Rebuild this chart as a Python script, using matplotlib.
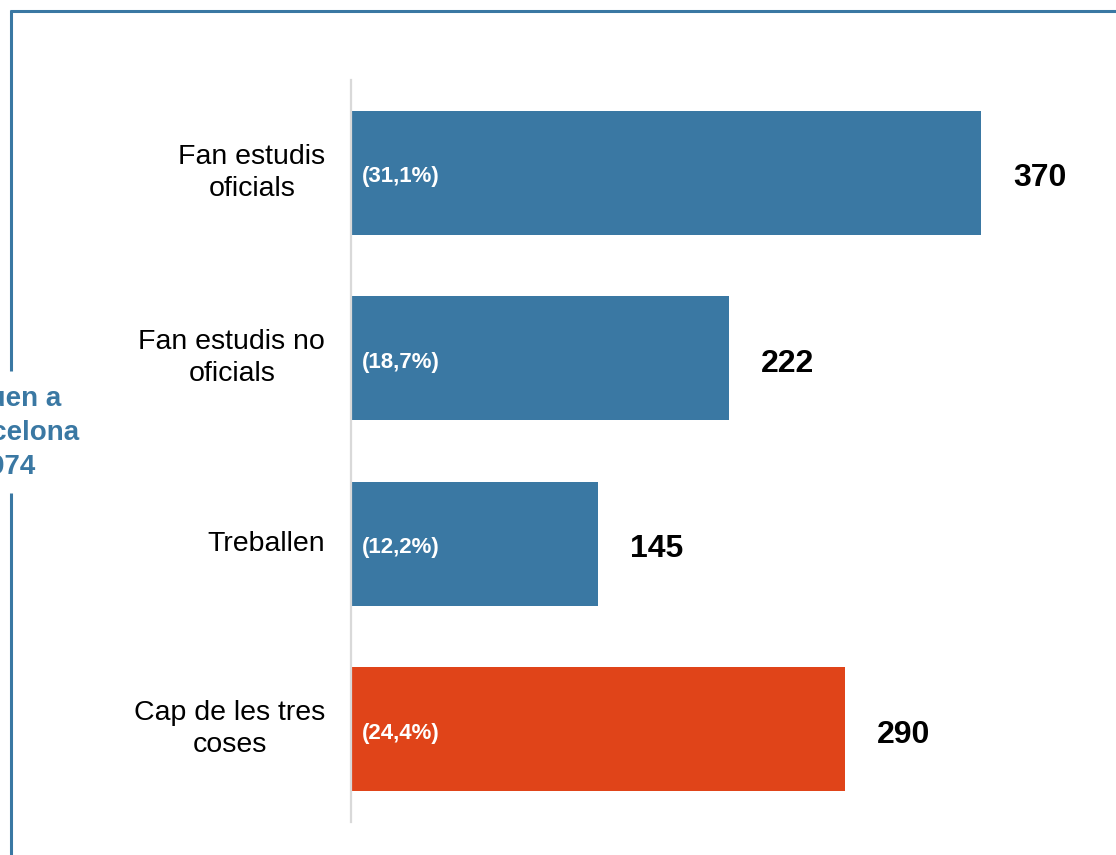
import numpy as np
import matplotlib
matplotlib.use('Agg')
import matplotlib.pyplot as plt
from matplotlib.lines import Line2D

plt.rcParams['font.family'] = ['Liberation Sans', 'DejaVu Sans']

# data
categories = ['Fan estudis\noficials', 'Fan estudis no\noficials', 'Treballen', 'Cap de les tres\ncoses']
values = [370, 222, 145, 290]
shares = ['(31,1%)', '(18,7%)', '(12,2%)', '(24,4%)']
side_text = 'Viuen a\nBarcelona\n974'

blue = '#3A78A3'
orange = '#E04419'
colors = [blue, blue, blue, orange]

W, H = 1116, 855
fig = plt.figure(figsize=(W / 100, H / 100), dpi=100)
fig.patch.set_facecolor('white')

# axes placed in pixel terms
ax = fig.add_axes([351 / W, (H - 822) / H, (W - 351) / W, 742 / H])
y = np.arange(len(values))
ax.barh(y, values, height=0.668, color=colors, zorder=2)
ax.set_ylim(3.5, -0.5)
ax.set_xlim(0, (W - 351) / (630 / 370))

for i, (v, s) in enumerate(zip(values, shares)):
    ax.annotate(s, xy=(0, i), xytext=(7.5, -1), textcoords='offset points',
                ha='left', va='center_baseline', color='white', fontsize=16, fontweight='bold', zorder=3)
    ax.annotate(str(v), xy=(v, i), xytext=(23, -1.5), textcoords='offset points',
                ha='left', va='center_baseline', color='black', fontsize=23, fontweight='bold')

ax.set_yticks(y)
ax.set_yticklabels(categories, fontsize=20.5, ha='right', va='center',
                   multialignment='center', linespacing=1.32)
for lab in ax.get_yticklabels():
    lab.set_y(lab.get_position()[1])
ax.tick_params(axis='y', length=0, pad=18.5)
ax.set_xticks([])
for side in ['top', 'right', 'bottom']:
    ax.spines[side].set_visible(False)
ax.spines['left'].set_color('#D9D9D9')
ax.spines['left'].set_linewidth(1.6)

# frame lines of the surrounding box
def px(xp, yp):
    return xp / W, 1 - yp / H

fig.add_artist(Line2D([px(10, 11)[0], 1.0], [px(11, 11)[1]] * 2, color=blue, lw=2.2,
                      solid_capstyle='butt'))
fig.add_artist(Line2D([px(11, 0)[0]] * 2, [px(0, 10)[1], px(0, 371)[1]], color=blue, lw=2.2,
                      solid_capstyle='butt'))
fig.add_artist(Line2D([px(11, 0)[0]] * 2, [px(0, 493)[1], 0.0], color=blue, lw=2.2,
                      solid_capstyle='butt'))

fig.text(12 / W, 1 - 433 / H, side_text, ha='center', va='center', multialignment='center',
         color=blue, fontsize=20, fontweight='bold', linespacing=1.4)

fig.savefig('out.png', dpi=100, facecolor='white')
